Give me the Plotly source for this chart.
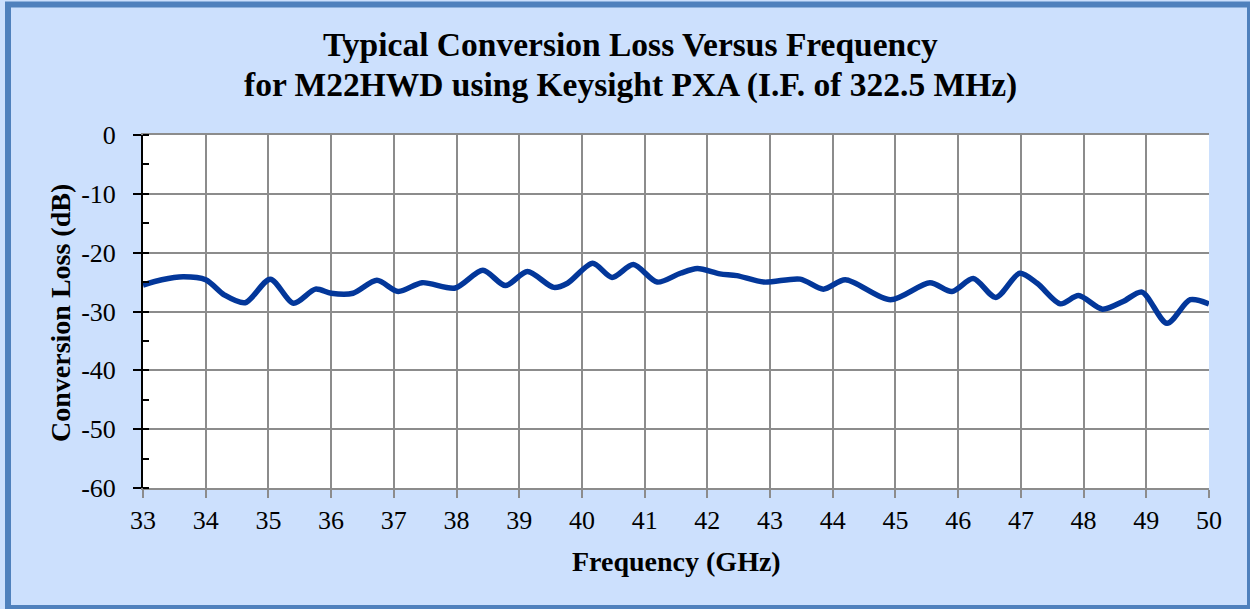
import plotly.graph_objects as go

freq_ghz = [33.0, 33.3, 33.64, 34.0, 34.3, 34.63, 35.03, 35.4, 35.75, 36.0, 36.35,
            36.73, 37.07, 37.45, 37.98, 38.42, 38.78, 39.13, 39.55, 39.77, 40.17,
            40.48, 40.82, 41.2, 41.57, 41.84, 42.2, 42.47, 42.9, 43.48, 43.85,
            44.2, 44.92, 45.55, 45.9, 46.24, 46.6, 46.98, 47.26, 47.63, 47.92,
            48.3, 48.63, 48.93, 49.33, 49.7, 50.0]
loss_db = [-25.5, -24.6, -24.1, -24.6, -27.2, -28.5, -24.5, -28.6, -26.2, -26.9, -26.9,
           -24.7, -26.6, -25.1, -26.0, -23.0, -25.6, -23.2, -25.9, -25.2, -21.8,
           -24.2, -22.0, -25.0, -23.5, -22.7, -23.6, -23.9, -25.0, -24.5, -26.2,
           -24.6, -28.0, -25.1, -26.6, -24.4, -27.6, -23.5, -25.2, -28.7, -27.3,
           -29.6, -28.3, -26.7, -32.0, -28.0, -28.7]

x_ticks = list(range(33, 51))
y_ticks = list(range(-60, 1, 10))

title_lines = ["Typical Conversion Loss Versus Frequency",
               "for M22HWD using Keysight PXA (I.F. of 322.5 MHz)"]
x_title = "Frequency (GHz)"
y_title = "Conversion Loss (dB)"

W, H = 1250, 609
L, R, T, B = 143, 41, 135, 121
pw, ph = W - L - R, H - T - B

def px(x):
    return (x - L) / pw

def py(y):
    return (H - B - y) / ph

serif = "Liberation Serif, Times New Roman, serif"

fig = go.Figure()
fig.add_trace(go.Scatter(
    x=freq_ghz, y=loss_db, mode="lines",
    line=dict(color="#03379A", width=5.5, shape="spline", smoothing=0.8),
    showlegend=False, hoverinfo="x+y",
))

annotations = [
    dict(text="<b>%s</b>" % title_lines[0], xref="paper", yref="paper",
         x=px(630), y=py(45), xanchor="center", yanchor="middle", showarrow=False,
         font=dict(family=serif, size=33.5, color="#000000")),
    dict(text="<b>%s</b>" % title_lines[1], xref="paper", yref="paper",
         x=px(630), y=py(85), xanchor="center", yanchor="middle", showarrow=False,
         font=dict(family=serif, size=33.5, color="#000000")),
    dict(text="<b>%s</b>" % x_title, xref="paper", yref="paper",
         x=px(676), y=py(561), xanchor="center", yanchor="middle", showarrow=False,
         font=dict(family=serif, size=28, color="#000000")),
    dict(text="<b>%s</b>" % y_title, xref="paper", yref="paper",
         x=px(60), y=py(313), xanchor="center", yanchor="middle", showarrow=False,
         textangle=-90, font=dict(family=serif, size=28, color="#000000")),
]

fig.update_layout(
    width=W, height=H,
    margin=dict(l=L, r=R, t=T, b=B, pad=0),
    paper_bgcolor="#CCE0FD",
    plot_bgcolor="#FFFFFF",
    font=dict(family=serif, color="#000000"),
    xaxis=dict(
        range=[33, 50], tickvals=x_ticks, ticktext=[str(v) for v in x_ticks],
        showgrid=True, gridcolor="#8C8C8C", gridwidth=2,
        showline=True, linecolor="#8C8C8C", linewidth=2, mirror=True,
        ticks="outside", ticklen=8, tickcolor="#8C8C8C", tickwidth=2,
        tickfont=dict(family=serif, size=26, color="#000000"),
        zeroline=False,
    ),
    yaxis=dict(
        range=[-60, 0], tickvals=y_ticks, ticktext=[str(v) for v in y_ticks],
        showgrid=True, gridcolor="#8C8C8C", gridwidth=2,
        showline=True, linecolor="#000000", linewidth=2, mirror=False,
        ticks="outside", ticklen=8, tickcolor="#000000", tickwidth=2,
        tickfont=dict(family=serif, size=26, color="#000000"),
        ticklabelstandoff=12,
        zeroline=False,
        minor=dict(dtick=5, ticks="inside", ticklen=6, tickcolor="#000000",
                   tickwidth=2, showgrid=False),
    ),
    annotations=annotations,
    shapes=[dict(
        type="rect", xref="paper", yref="paper",
        x0=px(8), x1=px(1250), y0=py(608), y1=py(4.5),
        line=dict(color="#4F81BD", width=6), fillcolor="rgba(0,0,0,0)",
        layer="above",
    )],
)

fig.write_html("out.html", config={"displayModeBar": False},
               post_script="document.body.style.margin='0';document.body.style.padding='0';")
